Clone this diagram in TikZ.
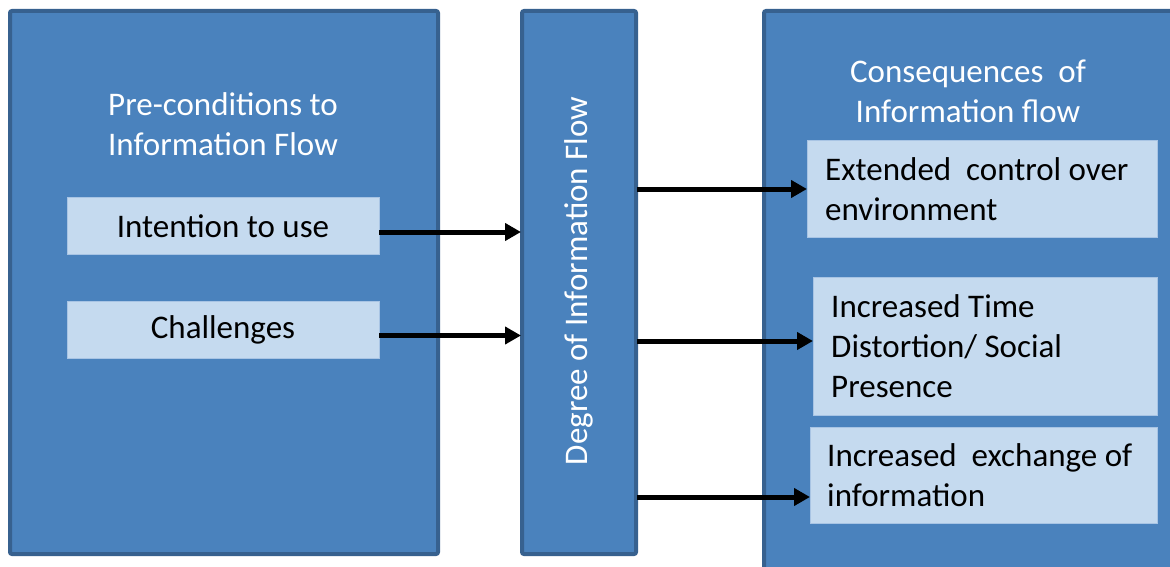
\documentclass[tikz,border=0pt]{standalone}
\usepackage{fontspec}
\setmainfont{Carlito}
\usetikzlibrary{arrows.meta,calc}
\definecolor{bluefill}{HTML}{4A82BD}
\definecolor{blueline}{HTML}{37618F}
\definecolor{lightfill}{HTML}{C5DAEF}
\definecolor{lightline}{HTML}{A8C4E4}
\tikzset{
  bigbox/.style={draw=blueline,fill=bluefill,line width=4pt,rounded corners=2pt},
  innerbox/.style={draw=lightline,fill=lightfill,line width=0.8pt,inner sep=0pt,outer sep=0pt},
  wtext/.style={text=white,font=\fontsize{33}{40}\selectfont,align=center,inner sep=0pt},
  btext/.style={text=black,font=\fontsize{33}{40}\selectfont,inner sep=0pt},
  arr/.style={line width=5pt,-{Triangle[length=16pt,width=17pt]}}
}
\begin{document}
\begin{tikzpicture}[x=1pt,y=-1pt]
\useasboundingbox (0,0) rectangle (1170,567);
\begin{scope}
\clip (0,0) rectangle (1170,567);
% big boxes
\draw[bigbox] (10,11) rectangle (438,554);
\node[inner sep=0pt,outer sep=0pt,minimum width=116pt,minimum height=545pt] (mid) at (579,282.5) {};
\draw[bigbox] (522,11) rectangle (636,554);
\draw[bigbox] (764,11) rectangle (1200,600);
\end{scope}
% titles
\node[wtext] (pretitle) at (223,124) {Pre-conditions to\\Information Flow};
\node[wtext] (contitle) at (968,91) {Consequences~ of\\Information flow};
\node[wtext,rotate=90] (midtext) at (579,281) {Degree of Information Flow};
% left inner boxes
\node[innerbox,minimum width=312pt,minimum height=57pt] (intent) at (223,226) {};
\node[btext] at (intent.center) {Intention to use};
\node[innerbox,minimum width=312pt,minimum height=57pt] (chall) at (223,329.5) {};
\node[btext] at (chall.center) {Challenges};
% right inner boxes
\node[innerbox,minimum width=350pt,minimum height=97pt] (ext) at (982,189) {};
\node[btext,align=left,anchor=west] at ($(ext.west)+(18,0)$) {Extended~ control over\\environment};
\node[innerbox,minimum width=344pt,minimum height=138pt] (time) at (985,346) {};
\node[btext,align=left,anchor=west] at ($(time.west)+(18,0)$) {Increased Time\\Distortion/ Social\\Presence};
\node[innerbox,minimum width=347pt,minimum height=96pt] (exch) at (983.5,475) {};
\node[btext,align=left,anchor=west] at ($(exch.west)+(17,0)$) {Increased~ exchange of\\information};
% arrows
\coordinate (i) at ($(intent.east)+(0,6)$);
\draw[arr] (i) -- (i -| mid.west);
\coordinate (c) at ($(chall.east)+(0,6)$);
\draw[arr] (c) -- (c -| mid.west);
\draw[arr] (ext.west -| mid.east) -- (ext.west);
\coordinate (t) at ($(time.west)+(0,-5)$);
\draw[arr] (t -| mid.east) -- (t);
\coordinate (e) at ($(exch.west)+(0,22)$);
\draw[arr] (e -| mid.east) -- (e);
\end{tikzpicture}
\end{document}
